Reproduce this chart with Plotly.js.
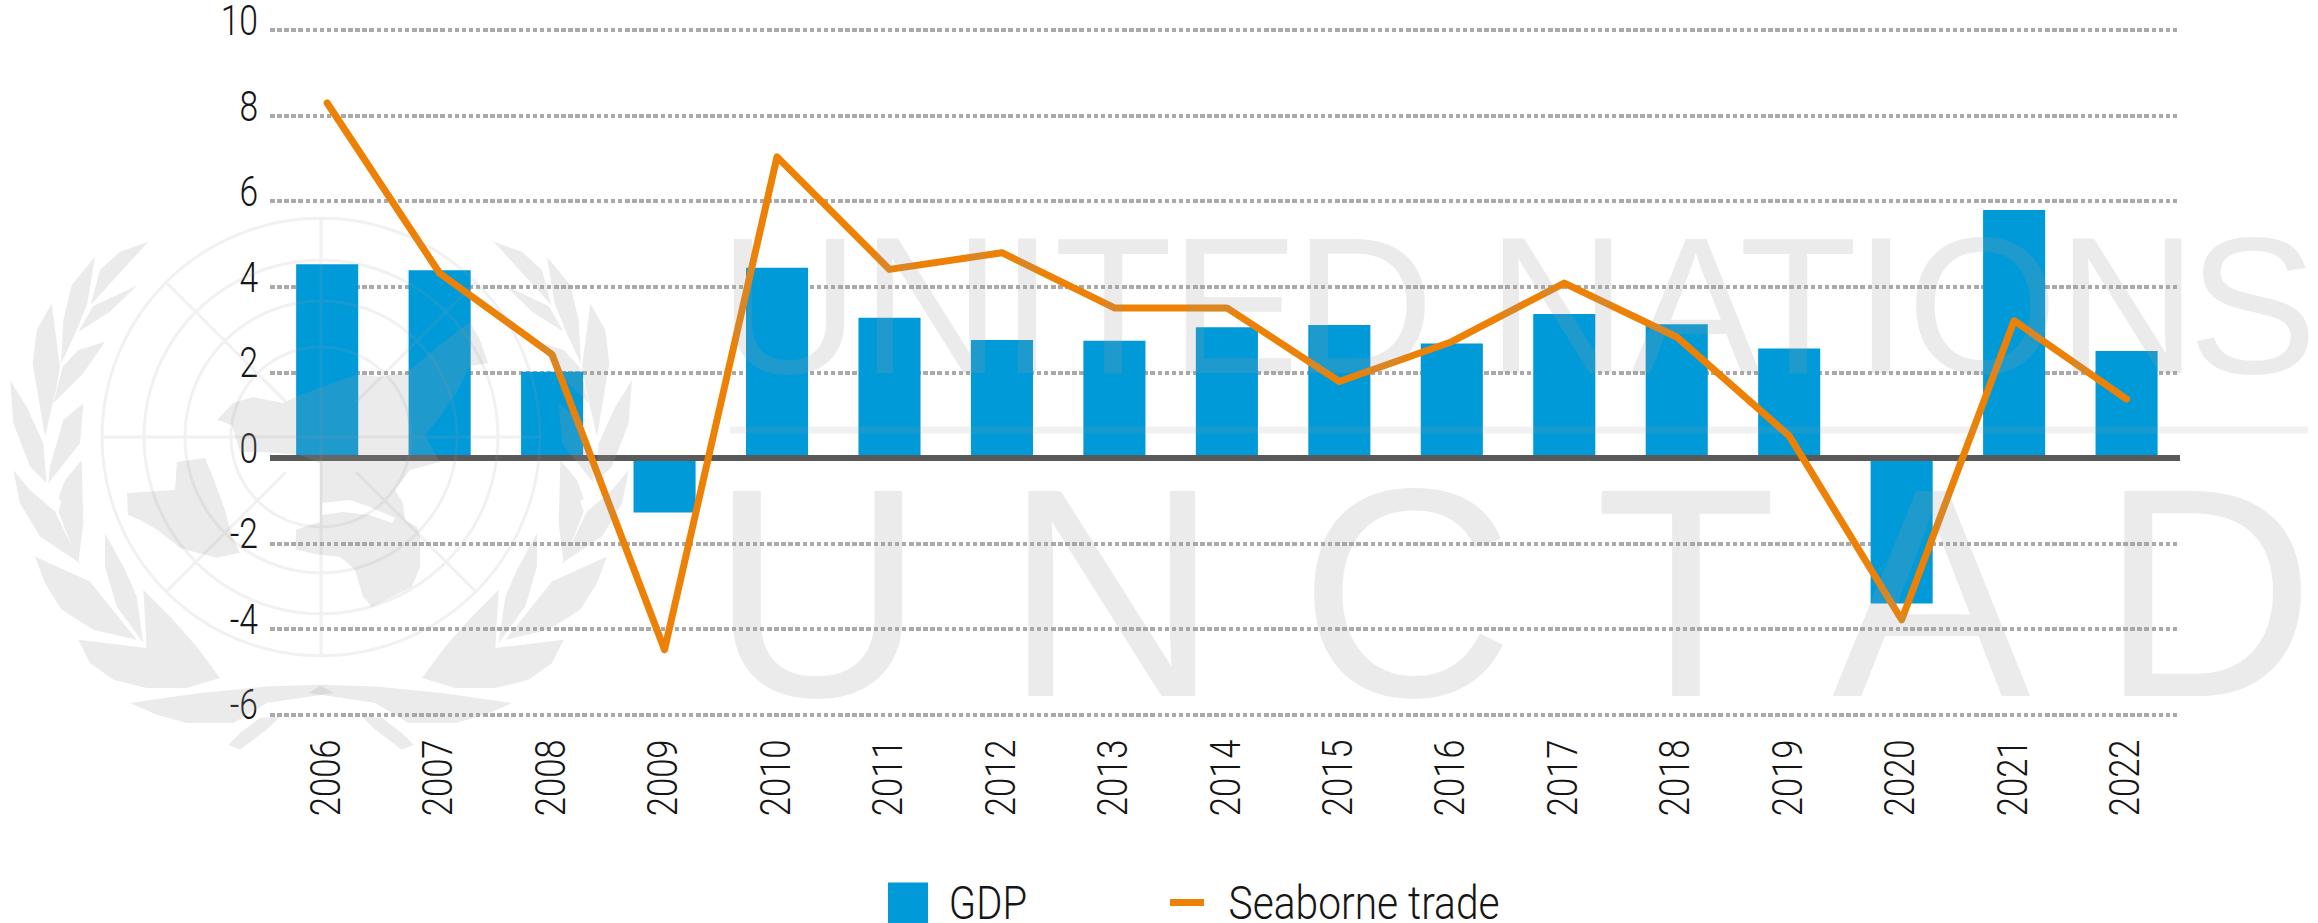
<!DOCTYPE html>
<html>
<head>
<meta charset="utf-8">
<script src="https://cdn.plot.ly/plotly-3.0.1.min.js"></script>
<style>
html,body{margin:0;padding:0;background:#fff;overflow:hidden}
#chart{width:2318px;height:923px}
.scatterlayer .js-line{stroke-linecap:round;stroke-linejoin:round}
</style>
</head>
<body>
<div id="chart"></div>
<script>
const years = [2006,2007,2008,2009,2010,2011,2012,2013,2014,2015,2016,2017,2018,2019,2020,2021,2022];
const yearLabels = ["2006","2007","2008","2009","2010","2011","2012","2013","2014","2015","2016","2017","2018","2019","2020","2021","2022"];
const gdp = [4.53,4.39,2.02,-1.27,4.45,3.28,2.76,2.74,3.06,3.11,2.68,3.37,3.13,2.56,-3.40,5.80,2.50];
const seaborne = [8.30,4.32,2.42,-4.48,7.04,4.41,4.80,3.51,3.51,1.79,2.72,4.09,2.83,0.52,-3.78,3.21,1.38];
const yTicks = [-6,-4,-2,0,2,4,6,8,10];
const yTickLabels = ["-6","-4","-2","0","2","4","6","8","10"];
const axisRangeX = [2005.4916,2022.475];
const axisRangeY = [-6.1,10.1];
const zeroLineX = [2005.465,2022.514];
const zeroLineY = [0,0];

const W=2318,H=923,L=270,R=2180,T=25.72,B=719.28;
const px=x=>(x-L)/(R-L), py=y=>(B-y)/(B-T);
const P=(x,y)=>px(x).toFixed(5)+','+py(y).toFixed(5);
const MARK='rgba(155,155,155,0.2)';
const MARK_THIN='rgba(155,155,155,0.14)';
const FONT='Roboto,sans-serif';
const WM='"Liberation Sans",Arial,sans-serif';
const TXT='#161616';

// watermark emblem
const cx=321,cy=437;
function ring(r){let s='';for(let i=0;i<=96;i++){const a=i/96*2*Math.PI;s+=(i?'L':'M')+P(cx+r*Math.cos(a),cy+r*Math.sin(a));}return s+'Z';}
function radial(a,r0,r1){const c=Math.cos(a),n=Math.sin(a);return 'M'+P(cx+r0*c,cy+r0*n)+'L'+P(cx+r1*c,cy+r1*n);}
let gridPath=[219,177,136,90].map(ring).join('');
gridPath+=radial(-Math.PI/2,0,219)+radial(Math.PI/2,0,219)+radial(Math.PI,0,219)+radial(0,0,219);
[Math.PI/4,3*Math.PI/4,5*Math.PI/4,7*Math.PI/4].forEach(a=>gridPath+=radial(a,50,219));

function poly(pts){return pts.map((p,i)=>(i?'L':'M')+P(p[0],p[1])).join('')+'Z';}
const landA=[[127,493],[175,490],[177,462],[205,458],[212,475],[225,510],[232,537],[240,553],[217,558],[197,553],[180,548],[157,530],[140,520],[128,515]];
const landB=[[217,420],[233,403],[253,397],[283,403],[300,395],[358,374],[380,377],[407,372],[440,345],[470,322],[480,340],[488,363],[470,366],[455,395],[440,417],[425,435],[440,462],[410,470],[395,490],[403,503],[405,520],[417,527],[420,537],[420,567],[412,587],[372,607],[363,597],[355,570],[340,557],[320,555],[296,550],[296,530],[320,522],[320,463],[300,455],[262,452],[240,452],[232,425]];
const med=[[322,503],[350,500],[370,507],[395,518],[392,523],[370,515],[343,512],[322,515]];
const landPath=poly(landA)+poly(landB)+poly(med);

// wreath leaves at 3x: upper crops (x/3, 190+y/3), lower crops (x/3, 440+y/3)
const upperLeaves=[
 [[445,155],[360,185],[300,240],[272,345],[340,270]],
 [[410,287],[280,348],[235,425],[330,365]],
 [[285,200],[215,285],[190,390],[183,522],[228,425],[262,340]],
 [[315,455],[235,480],[188,530],[160,640],[250,550]],
 [[155,340],[110,420],[98,520],[135,740],[170,590],[180,530]],
 [[250,640],[190,690],[150,830],[145,880],[240,760]],
 [[30,570],[40,700],[90,830],[140,880],[130,760],[80,650]],
 [[245,810],[195,870],[175,925],[215,960],[235,890]]
];
const lowerLeaves=[
 [[40,90],[60,190],[120,290],[240,370],[165,215],[90,150]],
 [[245,65],[205,120],[175,215],[235,370],[250,250]],
 [[105,350],[135,430],[185,510],[280,570],[410,600],[330,500],[270,425]],
 [[315,280],[315,380],[350,500],[430,610],[410,470],[375,390]],
 [[430,450],[440,625],[660,715],[590,620],[510,530]],
 [[235,600],[270,670],[340,720],[440,745],[560,745],[660,715],[440,625]],
 [[390,790],[600,760],[800,740],[960,735],[1000,760],[800,790],[700,850],[560,850],[470,825]],
 [[685,915],[720,930],[800,870],[840,830],[780,835],[720,880]]
];
const upperPts=upperLeaves.map(l=>l.map(p=>[p[0]/3,190+p[1]/3]));
const lowerPts=lowerLeaves.map(l=>l.map(p=>[p[0]/3,440+p[1]/3]));
const allLeaves=upperPts.concat(lowerPts);
const leafL=allLeaves.map(poly).join('');
const leafR=allLeaves.map(l=>poly(l.map(p=>[642-p[0],p[1]]))).join('');

const shapes=[
 {type:'rect',xref:'paper',yref:'paper',x0:px(888),x1:px(928),y0:py(883),y1:py(930),fillcolor:'#009ad9',line:{width:0},layer:'above'},
 {type:'line',xref:'paper',yref:'paper',x0:px(1170),x1:px(1204),y0:py(903),y1:py(903),line:{color:'#ed8106',width:7},layer:'above'},
 {type:'path',xref:'paper',yref:'paper',path:gridPath,line:{color:MARK_THIN,width:3},layer:'above'},
 {type:'path',xref:'paper',yref:'paper',path:landPath,fillcolor:MARK,line:{width:0},layer:'above',fillrule:'evenodd'},
 {type:'path',xref:'paper',yref:'paper',path:leafL,fillcolor:MARK,line:{width:0},layer:'above',fillrule:'nonzero'},
 {type:'path',xref:'paper',yref:'paper',path:leafR,fillcolor:MARK,line:{width:0},layer:'above',fillrule:'nonzero'},
 {type:'line',xref:'paper',yref:'paper',x0:px(730),x1:px(2308),y0:py(430),y1:py(430),line:{color:MARK_THIN,width:7},layer:'above'}
];

// glyph pen positions for the two watermark words, one per character
const penUN=[719,861,1000,1054,1170,1294,1450,1487,1631,1739,1854,1907,2057,2188];
const penUNCTAD=[710,1004,1299,1595,1832,2100];

const annotations=[
 {text:'UNITED NATIONS',xref:'paper',yref:'paper',x:px(1500),y:py(305),xanchor:'center',yanchor:'middle',showarrow:false,font:{family:WM,size:194,color:MARK}},
 {text:'UNCTAD',xref:'paper',yref:'paper',x:px(1500),y:py(593),xanchor:'center',yanchor:'middle',showarrow:false,font:{family:WM,size:298,color:MARK}},
 {text:'GDP',xref:'paper',yref:'paper',x:px(988),y:py(903),xanchor:'center',yanchor:'middle',showarrow:false,font:{family:FONT,size:46,color:TXT,weight:300}},
 {text:'Seaborne trade',xref:'paper',yref:'paper',x:px(1363.5),y:py(903),xanchor:'center',yanchor:'middle',showarrow:false,font:{family:FONT,size:46,color:TXT,weight:300}}
];

const traces=[
 {type:'bar',name:'GDP',x:years,y:gdp,marker:{color:'#009ad9',line:{width:0}},hoverinfo:'x+y'},
 {type:'scatter',mode:'lines',name:'Zero',x:zeroLineX,y:zeroLineY,line:{color:'#595959',width:6},cliponaxis:false,hoverinfo:'skip'},
 {type:'scatter',mode:'lines',name:'Seaborne trade',x:years,y:seaborne,line:{color:'#ed8106',width:7},cliponaxis:false}
];

const tf={family:FONT,size:42,color:TXT,weight:300};
const layout={
 width:W,height:H,margin:{l:L,r:W-R,t:T,b:H-B,pad:0},
 paper_bgcolor:'#fff',plot_bgcolor:'#fff',showlegend:false,bargap:0.448,
 font:{family:FONT,size:42,color:TXT},
 xaxis:{type:'linear',range:axisRangeX,tickmode:'array',tickvals:years,ticktext:yearLabels,tickangle:-90,showgrid:false,zeroline:false,showline:false,ticks:'',tickfont:tf,ticklabelstandoff:11,ticklabelshift:-1},
 yaxis:{range:axisRangeY,tickmode:'array',tickvals:yTicks,ticktext:yTickLabels,showgrid:true,gridcolor:'#aaaaaa',gridwidth:4,griddash:'4.5px,2.6px',zeroline:false,showline:false,ticks:'',tickfont:tf,ticklabelstandoff:11,ticklabelshift:-10,ticklabeloverflow:'allow'},
 shapes,annotations
};
function squeeze(el,f){const n=el.getComputedTextLength();el.setAttribute('textLength',(n*f).toFixed(1));el.setAttribute('lengthAdjust','spacingAndGlyphs');}
function place(el,pens){el.setAttribute('text-anchor','start');el.style.textAnchor='start';const m=el.getCTM();el.setAttribute('x',pens.map(p=>((p-m.e)/m.a).toFixed(1)).join(' '));}
Plotly.newPlot('chart',traces,layout,{displayModeBar:false,responsive:false}).then(gd=>{
 gd.querySelectorAll('.xtick text').forEach(e=>squeeze(e,0.825));
 gd.querySelectorAll('.ytick text').forEach(e=>squeeze(e,0.80));
 gd.querySelectorAll('.annotation-text').forEach(e=>{
  const t=e.textContent;
  if(t==='UNITED NATIONS')place(e,penUN);
  else if(t==='UNCTAD')place(e,penUNCTAD);
  else if(t==='GDP')squeeze(e,0.87);
  else if(t==='Seaborne trade')squeeze(e,0.885);
 });
});
</script>
</body>
</html>
